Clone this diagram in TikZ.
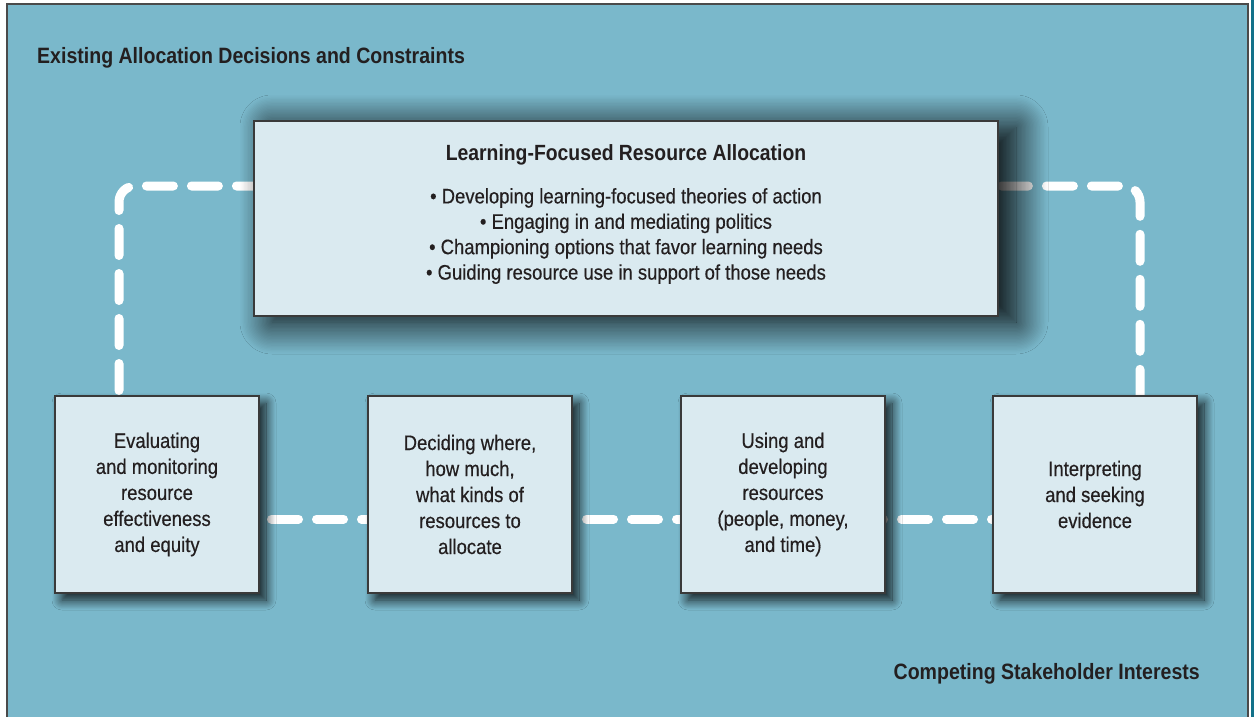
\documentclass[tikz,border=0pt]{standalone}
\usepackage{fontspec}
\setmainfont{Liberation Sans}[FakeStretch=0.88, UprightFeatures={FakeBold=0.4}]
\usetikzlibrary{shadows.blur}
\definecolor{bg}{HTML}{7AB8CB}
\definecolor{boxfill}{HTML}{DAEAF0}
\definecolor{boxline}{HTML}{3A3A3A}
\definecolor{ink}{HTML}{231F20}
\definecolor{strip}{HTML}{13728A}
\definecolor{frameline}{HTML}{4A4A4A}
\tikzset{
  stagebox/.style={draw=boxline, line width=1.4pt, fill=boxfill, text=ink,
    minimum width=204pt, minimum height=197pt, align=center, inner sep=0pt,
    font=\fontsize{21}{26}\selectfont,
    blur shadow={shadow xshift=7pt, shadow yshift=-7pt, shadow blur radius=10pt, shadow blur steps=16, shadow opacity=85}},
  topbox/.style={draw=boxline, line width=1.4pt, fill=boxfill,
    minimum width=744pt, minimum height=195pt, inner sep=0pt,
    blur shadow={shadow xshift=18pt, shadow yshift=-6pt, shadow blur radius=32pt, shadow blur steps=24, shadow opacity=100}},
  boxtext/.style={text=ink, align=center, inner sep=0pt, font=\fontsize{21}{25.4}\selectfont},
  loopline/.style={draw=white, line width=9pt, line cap=round, dash pattern=on 27pt off 18pt},
  ctxlabel/.style={text=ink, font=\fontsize{22.2}{26}\selectfont\bfseries, inner sep=0pt},
}
\begin{document}
\begin{tikzpicture}[x=1pt,y=-1pt]
\useasboundingbox (0,0) rectangle (1254,717);
\fill[white] (0,0) rectangle (1254,717);
\fill[bg] (7,4) rectangle (1248,717);
\draw[frameline, line width=1.5pt] (7,717) -- (7,4) -- (1248,4) -- (1248,717);
\fill[strip] (1251,0) rectangle (1254,717);

% coordinates for the nodes (centres)
\coordinate (ctop) at (626,218.5);
\coordinate (c1) at (157,494.5);
\coordinate (c2) at (470,494.5);
\coordinate (c3) at (783,494.5);
\coordinate (c4) at (1095,494.5);

% connectors drawn first (behind boxes)
\draw[loopline, rounded corners=16pt, dash phase=39.5pt]
  ([xshift=-38pt,yshift=98.5pt]c1) |- ([yshift=32.5pt]ctop) -| ([xshift=45pt,yshift=98.5pt]c4);
\draw[loopline, dash phase=20.5pt] ([yshift=-24.5pt]c1) -- ([yshift=-24.5pt]c2) -- ([yshift=-24.5pt]c3) -- ([yshift=-24.5pt]c4);

\node[ctxlabel, anchor=base west] (lblA) at (37,64) {Existing Allocation Decisions and Constraints};
\node[ctxlabel, anchor=base east] (lblB) at (1200,679) {Competing Stakeholder Interests};

\node[topbox] (top) at (ctop) {};
\node[boxtext] (toptext) at ([yshift=4pt]top.center) {{\bfseries\fontsize{22}{25.4}\selectfont Learning-Focused Resource Allocation}\\[17pt]
  • Developing learning-focused theories of action\\
  • Engaging in and mediating politics\\
  • Championing options that favor learning needs\\
  • Guiding resource use in support of those needs};

\node[stagebox] (b1) at (c1) {Evaluating\\and monitoring\\resource\\effectiveness\\and equity};
\node[stagebox] (b2) at (c2) {Deciding where,\\how much,\\what kinds of\\resources to\\allocate};
\node[stagebox] (b3) at (c3) {Using and\\developing\\resources\\(people, money,\\and time)};
\node[stagebox] (b4) at (c4) {Interpreting\\and seeking\\evidence};
\end{tikzpicture}
\end{document}
